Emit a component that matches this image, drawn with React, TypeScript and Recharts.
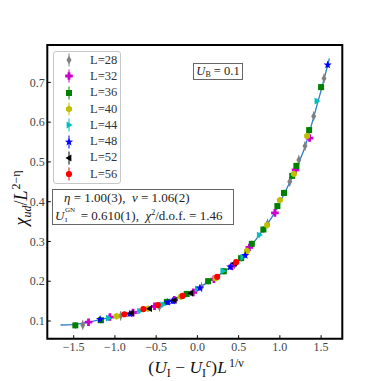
import React from "react";
import { ComposedChart, Scatter, Line, XAxis, YAxis, ErrorBar, Legend, Label, ReferenceArea } from "recharts";

const FONT = "'Liberation Serif', 'DejaVu Serif', serif";

const sizes = [28, 32, 36, 40, 44, 48, 52, 56];
const colors = ["#808080", "#cc00cc", "#008000", "#bfbf00", "#00bfbf", "#0000ff", "#000000", "#ff0000"];
const markers = ["thinDiamond", "plus", "square", "hexagon", "triRight", "star", "triLeft", "circle"];
const errs = [0.012, 0.008, 0.008, 0.007, 0.007, 0.007, 0.006, 0.006];

// scaled points (x, chi/L^(2-eta)) per system size
const L28: [number, number][] = [
  [-1.39, 0.090], [-0.93, 0.113], [-0.46, 0.136], [0.05, 0.185], [0.45, 0.243],
  [0.85, 0.345], [1.12, 0.450], [1.23, 0.505], [1.305, 0.540], [1.41, 0.615], [1.535, 0.710],
];
const L32: [number, number][] = [
  [-1.32, 0.097], [-1.06, 0.110], [-0.78, 0.121], [-0.52, 0.137], [-0.28, 0.153], [-0.05, 0.172],
  [0.2, 0.205], [0.42, 0.238], [0.63, 0.285], [0.94, 0.372], [1.19, 0.480], [1.36, 0.560],
];
const L36: [number, number][] = [
  [-1.48, 0.089], [-1.17, 0.102], [-0.37, 0.148], [-0.13, 0.168], [0.13, 0.200], [0.32, 0.225],
  [0.53, 0.258], [0.66, 0.294], [0.80, 0.330], [0.97, 0.389], [1.05, 0.422], [1.15, 0.465],
  [1.20, 0.490], [1.355, 0.580], [1.50, 0.688],
];
const L40: [number, number][] = [
  [-0.98, 0.112], [-0.6, 0.131], [-0.2, 0.161], [0.22, 0.207], [0.60, 0.276], [0.845, 0.341],
  [1.0, 0.404], [1.17, 0.470], [1.33, 0.565],
];
const L44: [number, number][] = [
  [-1.08, 0.107], [-0.70, 0.125], [-0.42, 0.141], [0.0, 0.181], [0.31, 0.226], [0.55, 0.260],
  [0.75, 0.316], [1.45, 0.653],
];
const L48: [number, number][] = [
  [-1.18, 0.104], [-0.82, 0.118], [-0.36, 0.147], [-0.30, 0.150], [0.03, 0.183], [0.40, 0.236],
  [0.58, 0.265], [1.58, 0.744],
];
const L52: [number, number][] = [
  [-0.80, 0.120], [-0.58, 0.131], [-0.28, 0.152], [-0.08, 0.170], [0.45, 0.245],
];
const L56: [number, number][] = [
  [-0.885, 0.117], [-0.655, 0.130], [-0.48, 0.140], [-0.18, 0.163], [0.24, 0.211], [0.47, 0.248],
];
const seriesPoints = [L28, L32, L36, L40, L44, L48, L52, L56];

// fitted scaling curve
const fitX = [-1.66, -1.5, -1.3, -1.2, -1.1, -1.0, -0.9, -0.8, -0.7, -0.6, -0.5, -0.4, -0.3, -0.2, -0.1,
  0.0, 0.1, 0.2, 0.3, 0.4, 0.5, 0.6, 0.7, 0.8, 0.9, 1.0, 1.1, 1.2, 1.3, 1.4, 1.5, 1.6];
const fitY = [0.090, 0.091, 0.098, 0.102, 0.107, 0.111, 0.115, 0.120, 0.126, 0.132, 0.139, 0.146, 0.154,
  0.163, 0.172, 0.182, 0.194, 0.207, 0.221, 0.236, 0.253, 0.276, 0.302, 0.330, 0.360, 0.398, 0.440,
  0.485, 0.535, 0.605, 0.680, 0.760];

const xTicks = [-1.5, -1.0, -0.5, 0.0, 0.5, 1.0, 1.5];
const yTicks = [0.1, 0.2, 0.3, 0.4, 0.5, 0.6, 0.7];

const fitData = fitX.map((x, i) => ({ x, y: fitY[i] }));
const fmt = (v: number) => v.toFixed(1).replace("-", "\u2212");

function Mark({ kind, cx, cy, color }: { kind: string; cx: number; cy: number; color: string }) {
  if (cx == null || cy == null) return null;
  switch (kind) {
    case "thinDiamond":
      return <polygon points={`${cx},${cy - 4.2} ${cx + 2.5},${cy} ${cx},${cy + 4.2} ${cx - 2.5},${cy}`} fill={color} />;
    case "plus": {
      const a = 3.8, b = 1.4;
      return (
        <path
          d={`M${cx - b},${cy - a}H${cx + b}V${cy - b}H${cx + a}V${cy + b}H${cx + b}V${cy + a}H${cx - b}V${cy + b}H${cx - a}V${cy - b}H${cx - b}Z`}
          fill={color}
        />
      );
    }
    case "square":
      return <rect x={cx - 3} y={cy - 3} width={6} height={6} fill={color} />;
    case "hexagon": {
      const pts = [0, 1, 2, 3, 4, 5]
        .map((k) => {
          const t = (Math.PI / 3) * k + Math.PI / 2;
          return `${cx + 3.4 * Math.cos(t)},${cy + 3.4 * Math.sin(t)}`;
        })
        .join(" ");
      return <polygon points={pts} fill={color} />;
    }
    case "triRight":
      return <polygon points={`${cx + 3.6},${cy} ${cx - 2.4},${cy - 3.4} ${cx - 2.4},${cy + 3.4}`} fill={color} />;
    case "triLeft":
      return <polygon points={`${cx - 3.6},${cy} ${cx + 2.4},${cy - 3.4} ${cx + 2.4},${cy + 3.4}`} fill={color} />;
    case "star": {
      const pts: string[] = [];
      for (let k = 0; k < 10; k++) {
        const r = k % 2 === 0 ? 4.3 : 1.8;
        const t = (Math.PI / 5) * k - Math.PI / 2;
        pts.push(`${cx + r * Math.cos(t)},${cy + r * Math.sin(t)}`);
      }
      return <polygon points={pts.join(" ")} fill={color} />;
    }
    default:
      return <circle cx={cx} cy={cy} r={3.1} fill={color} />;
  }
}

const LegendBox = () => (
  <div
    style={{
      width: 68,
      height: 133,
      border: "1px solid #c8c8c8",
      borderRadius: 3,
      background: "#fff",
      boxSizing: "border-box",
      fontFamily: FONT,
      fontSize: 12.5,
      color: "#333",
      paddingTop: 0,
    }}
  >
    {sizes.map((L, i) => (
      <div key={L} style={{ display: "flex", alignItems: "center", height: 16.3 }}>
        <svg width={36} height={16} style={{ display: "block" }}>
          <line x1={15} y1={1.5} x2={15} y2={14.5} stroke={colors[i]} strokeWidth={1} />
          <Mark kind={markers[i]} cx={15} cy={8} color={colors[i]} />
        </svg>
        <span>L={L}</span>
      </div>
    ))}
  </div>
);

const XLabel = () => (
  <text x={196} y={373} textAnchor="middle" fontFamily={FONT} fontSize={17.5} fill="#111">
    (<tspan fontStyle="italic">U</tspan>
    <tspan fontSize={12} dy={4}>I</tspan>
    <tspan dy={-4}> − </tspan>
    <tspan fontStyle="italic">U</tspan>
    <tspan fontSize={12} dy={4}>I</tspan>
    <tspan fontSize={12} fontStyle="italic" dy={-10.5}>c</tspan>
    <tspan dy={6.5}>)</tspan>
    <tspan fontStyle="italic">L</tspan>
    <tspan fontSize={12} dx={2} dy={-6.5}>1/ν</tspan>
  </text>
);

const YLabel = () => (
  <text x={0} y={0} transform="translate(27,198) rotate(-90)" textAnchor="middle" fontFamily={FONT} fontSize={18} fill="#111">
    <tspan fontStyle="italic">χ</tspan>
    <tspan fontSize={12} fontStyle="italic" dy={4}>ud</tspan>
    <tspan dy={-4}>/</tspan>
    <tspan fontStyle="italic">L</tspan>
    <tspan fontSize={12} dx={1} dy={-7}>2−η</tspan>
  </text>
);

const tickStyle = { fontFamily: FONT, fontSize: 12, fill: "#444" };

export default function App() {
  return (
    <div style={{ position: "absolute", left: 0, top: 0, width: 381, height: 381, background: "#fff" }}>
      <ComposedChart width={381} height={381} margin={{ top: 45, right: 38.7, bottom: 12.3, left: 7.3 }}>
        <XAxis
          type="number"
          dataKey="x"
          domain={[-1.82, 1.757]}
          ticks={xTicks}
          tickFormatter={fmt}
          allowDataOverflow
          height={30}
          tickSize={-3.5}
          tickMargin={7.5}
          tick={tickStyle}
          tickLine={{ stroke: "#000", strokeWidth: 1 }}
          axisLine={false}
        >
          <Label content={XLabel} />
        </XAxis>
        <YAxis
          type="number"
          dataKey="y"
          domain={[0.0555, 0.794]}
          ticks={yTicks}
          tickFormatter={fmt}
          allowDataOverflow
          width={40}
          tickSize={-3.5}
          tickMargin={6}
          tick={tickStyle}
          tickLine={{ stroke: "#000", strokeWidth: 1 }}
          axisLine={false}
        >
          <Label content={YLabel} />
        </YAxis>
        <Line
          data={fitData}
          dataKey="y"
          type="monotone"
          stroke="#2f7ec6"
          strokeWidth={1.3}
          dot={false}
          activeDot={false}
          isAnimationActive={false}
          legendType="none"
        />
        {seriesPoints.map((pts, i) => (
          <Scatter
            key={sizes[i]}
            name={`L=${sizes[i]}`}
            data={pts.map(([x, y]) => ({ x, y, err: errs[i] }))}
            fill={colors[i]}
            isAnimationActive={false}
            shape={(p: any) => <Mark kind={markers[i]} cx={p.cx} cy={p.cy} color={colors[i]} />}
          >
            <ErrorBar dataKey="err" direction="y" width={0} stroke={colors[i]} strokeWidth={1} />
          </Scatter>
        ))}
        <ReferenceArea
          x1={-1.82}
          x2={1.757}
          y1={0.0555}
          y2={0.794}
          fill="none"
          stroke="#000"
          strokeWidth={2}
          fillOpacity={0}
        />
        <Legend
          layout="vertical"
          align="center"
          verticalAlign="middle"
          content={LegendBox}
          wrapperStyle={{ position: "absolute", left: 53, top: 51, width: 68, height: 133 }}
        />
      </ComposedChart>
      <div
        style={{
          position: "absolute",
          left: 193,
          top: 63,
          width: 50,
          height: 17,
          border: "1px solid #666",
          boxSizing: "border-box",
          fontFamily: FONT,
          fontSize: 12.5,
          color: "#222",
          textAlign: "center",
          lineHeight: "15px",
          background: "#fff",
        }}
      >
        <i>U</i>
        <span style={{ fontSize: 8, verticalAlign: -2 }}>B</span> = 0.1
      </div>
      <div
        style={{
          position: "absolute",
          left: 52,
          top: 189,
          width: 182,
          height: 36,
          border: "1px solid #666",
          boxSizing: "border-box",
          fontFamily: FONT,
          fontSize: 13,
          color: "#222",
          background: "#fff",
          lineHeight: "15px",
          padding: "0 0 0 2px",
          whiteSpace: "nowrap",
        }}
      >
        <div style={{ paddingLeft: 9 }}>
          <i>η</i> = 1.00(3), &nbsp;<i>ν</i> = 1.06(2)
        </div>
        <div style={{ marginTop: 3 }}>
          <i>U</i>
          <span style={{ position: "relative", display: "inline-block", width: 13, height: 10 }}>
            <span style={{ position: "absolute", left: 0.5, top: -4, fontSize: 7, lineHeight: "8px" }}>GN</span>
            <span style={{ position: "absolute", left: 0.5, top: 6, fontSize: 7, lineHeight: "8px" }}>I</span>
          </span>
          {" "}= 0.610(1), &nbsp;<i>χ</i>
          <sup style={{ fontSize: 8, lineHeight: 0 }}>2</sup>/d.o.f. = 1.46
        </div>
      </div>
    </div>
  );
}
